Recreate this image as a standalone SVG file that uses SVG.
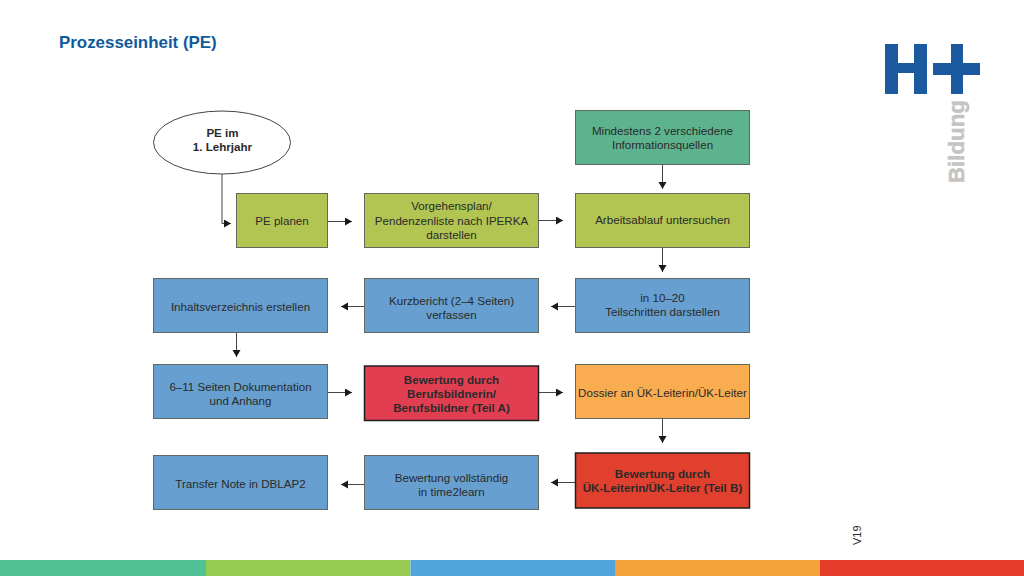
<svg xmlns="http://www.w3.org/2000/svg" width="1024" height="576" viewBox="0 0 1024 576">
<defs>
<marker id="ah" markerUnits="userSpaceOnUse" markerWidth="8" markerHeight="9" refX="7" refY="4" orient="auto"><path d="M0 0L7 4L0 8Z" fill="#1a1a1a"/></marker>
</defs>
<style>
text{font-family:"Liberation Sans",Arial,sans-serif;font-size:11.600px;fill:#2a2a2a;text-anchor:middle}
.b{font-weight:bold}
.n{stroke:#5f6a5c;stroke-width:1}
.g{fill:#b2c452}.t{fill:#5eb38f}.u{fill:#669fd0}
.c{fill:none;stroke:#444;stroke-width:1;marker-end:url(#ah)}
.logo{fill:#1b5a9f}
</style>
<rect width="1024" height="576" fill="#fff"/>
<text x="59" y="48" style="font-size:16.900px;font-weight:bold;fill:#0f5a9c;text-anchor:start">Prozesseinheit (PE)</text>
<g id="logo">
<path class="logo" d="M885 44h13v19h16v-19h13v50h-13v-21h-16v21h-13z"/>
<path class="logo" d="M951 44h12v19h17v12h-17v19h-12v-19h-18v-12h18z"/>
<text transform="translate(964 183) rotate(-90)" style="font-size:22.300px;font-weight:bold;fill:#c4c4c4;stroke:#c4c4c4;stroke-width:0.500px;text-anchor:start">Bildung</text>
</g>
<g id="connectors">
<path class="c" d="M222 174V223.500H231"/>
<path class="c" d="M328 221.500H352"/>
<path class="c" d="M539 220.500H563"/>
<path class="c" d="M662.500 165V189"/>
<path class="c" d="M662.500 248V272"/>
<path class="c" d="M575 306.500H551"/>
<path class="c" d="M364 306.500H341"/>
<path class="c" d="M236.500 333V357"/>
<path class="c" d="M328 392.500H352"/>
<path class="c" d="M539 392.500H563"/>
<path class="c" d="M662.500 419V443"/>
<path class="c" d="M575 482.500H551"/>
<path class="c" d="M364 484.500H341"/>
</g>
<g id="n1"><ellipse cx="222" cy="142.500" rx="68.500" ry="31.500" fill="#fff" stroke="#444" stroke-width="1"/><text class="b" x="222.500" y="137">PE im</text><text class="b" x="222.500" y="151">1. Lehrjahr</text></g>
<g id="n2"><rect class="n t" x="575.500" y="110.500" width="174" height="54"/><text x="662.500" y="135">Mindestens 2 verschiedene</text><text x="662.500" y="149">Informationsquellen</text></g>
<g id="n3"><rect class="n g" x="236.500" y="193.500" width="91" height="54"/><text x="282" y="225">PE planen</text></g>
<g id="n4"><rect class="n g" x="364.500" y="193.500" width="174" height="54"/><text x="451.500" y="210">Vorgehensplan/</text><text x="451.500" y="225">Pendenzenliste nach IPERKA</text><text x="451.500" y="239">darstellen</text></g>
<g id="n5"><rect class="n g" x="575.500" y="193.500" width="174" height="54"/><text x="662.500" y="224">Arbeitsablauf untersuchen</text></g>
<g id="n6"><rect class="n u" x="153.500" y="278.500" width="174" height="54"/><text x="240.500" y="311">Inhaltsverzeichnis erstellen</text></g>
<g id="n7"><rect class="n u" x="364.500" y="278.500" width="174" height="54"/><text x="451.500" y="305">Kurzbericht (2–4 Seiten)</text><text x="451.500" y="319">verfassen</text></g>
<g id="n8"><rect class="n u" x="575.500" y="278.500" width="174" height="54"/><text x="662.500" y="302">in 10–20</text><text x="662.500" y="316">Teilschritten darstellen</text></g>
<g id="n9"><rect class="n u" x="153.500" y="364.500" width="174" height="54"/><text x="240.500" y="391">6–11 Seiten Dokumentation</text><text x="240.500" y="405">und Anhang</text></g>
<g id="n10"><rect x="364.500" y="366" width="174" height="54.500" fill="#e23e51" stroke="#1f1f1f" stroke-width="1.500"/><text class="b" x="451.500" y="383.500">Bewertung durch</text><text class="b" x="451.500" y="398">Berufsbildnerin/</text><text class="b" x="451.500" y="412">Berufsbildner (Teil A)</text></g>
<g id="n11"><rect class="n" x="575.500" y="364.500" width="174" height="54" fill="#f9ac50"/><text x="662.500" y="396.500">Dossier an ÜK-Leiterin/ÜK-Leiter</text></g>
<g id="n12"><rect class="n u" x="153.500" y="455.500" width="174" height="54"/><text x="240.500" y="488">Transfer Note in DBLAP2</text></g>
<g id="n13"><rect class="n u" x="364.500" y="455.500" width="174" height="54"/><text x="451.500" y="481.500">Bewertung vollständig</text><text x="451.500" y="495.500">in time2learn</text></g>
<g id="n14"><rect x="575.500" y="453" width="174" height="55" fill="#e2402e" stroke="#1f1f1f" stroke-width="1.500"/><text class="b" x="662.500" y="477.500">Bewertung durch</text><text class="b" x="662.500" y="492">ÜK-Leiterin/ÜK-Leiter (Teil B)</text></g>
<text transform="translate(861 545) rotate(-90)" style="font-size:11px;text-anchor:start">V19</text>
<g id="footer">
<rect x="0" y="560" width="206" height="16" fill="#4fc194"/>
<rect x="206" y="560" width="204.500" height="16" fill="#97ca50"/>
<rect x="410.500" y="560" width="204.500" height="16" fill="#4fa5dc"/>
<rect x="615" y="560" width="205" height="16" fill="#f4a23c"/>
<rect x="820" y="560" width="204" height="16" fill="#e63d2b"/>
</g>
</svg>
